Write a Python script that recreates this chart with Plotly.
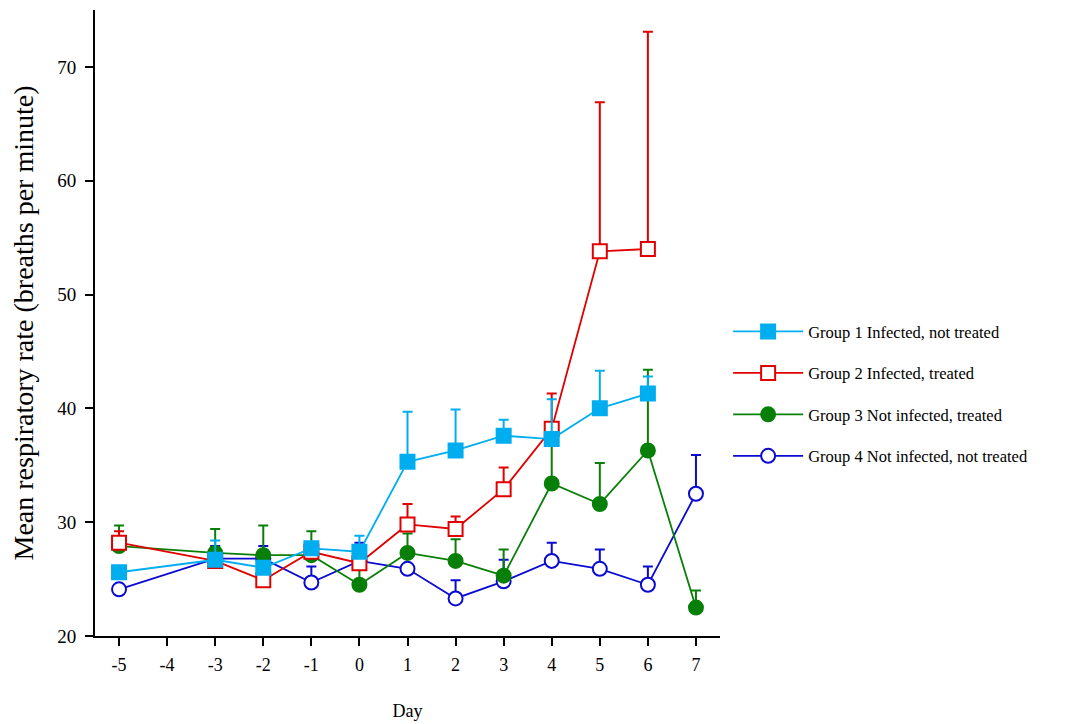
import plotly.graph_objects as go

# Data
days = [-5, -3, -2, -1, 0, 1, 2, 3, 4, 5, 6, 7]

g1_mean = [25.6, 26.7, 26.0, 27.7, 27.4, 35.3, 36.3, 37.6, 37.3, 40.0, 41.3, None]
g1_upper = [25.6, 28.4, 26.0, 28.0, 28.8, 39.7, 39.9, 39.0, 40.8, 43.3, 42.8, None]

g2_mean = [28.2, 26.6, 24.9, 27.4, 26.4, 29.8, 29.4, 32.9, 38.2, 53.8, 54.0, None]
g2_upper = [29.2, 26.6, 24.9, 27.4, 26.4, 31.6, 30.5, 34.8, 41.3, 66.9, 73.1, None]

g3_mean = [27.9, 27.3, 27.1, 27.1, 24.5, 27.3, 26.6, 25.3, 33.4, 31.6, 36.3, 22.5]
g3_upper = [29.7, 29.4, 29.7, 29.2, 26.0, 29.0, 28.5, 27.6, 37.5, 35.2, 43.4, 24.0]

g4_mean = [24.1, 26.8, 26.8, 24.7, 26.6, 25.9, 23.3, 24.8, 26.6, 25.9, 24.5, 32.5]
g4_upper = [24.1, 27.9, 27.9, 26.1, 28.2, 25.9, 24.9, 26.7, 28.2, 27.6, 26.1, 35.9]

names = [
    "Group 1 Infected, not treated",
    "Group 2 Infected, treated",
    "Group 3 Not infected, treated",
    "Group 4 Not infected, not treated",
]
colors = ["#00AEEF", "#E00000", "#087F08", "#0A0AD0"]
symbols = ["square", "square", "circle", "circle"]
fills = ["#00AEEF", "white", "#087F08", "white"]

series = [(g1_mean, g1_upper), (g2_mean, g2_upper), (g3_mean, g3_upper), (g4_mean, g4_upper)]

fig = go.Figure()
# draw group 4 first so group 1 is on top
for i in [3, 2, 1, 0]:
    mean, upper = series[i]
    xs = [d for d, m in zip(days, mean) if m is not None]
    ys = [m for m in mean if m is not None]
    up = [u - m for u, m in zip(upper, mean) if m is not None]
    fig.add_trace(go.Scatter(
        x=xs, y=ys, name=names[i], mode="lines+markers",
        line=dict(color=colors[i], width=1.8),
        marker=dict(symbol=symbols[i], size=14, color=fills[i],
                    line=dict(color=colors[i], width=2)),
        error_y=dict(type="data", symmetric=False, array=up, arrayminus=[0] * len(up),
                     color=colors[i], thickness=2, width=5),
        legendgroup=str(i), legendrank=i + 1,
    ))

fig.update_layout(
    width=1066, height=724,
    paper_bgcolor="white", plot_bgcolor="white",
    margin=dict(l=87, r=354, t=2, b=96),
    font=dict(family="Liberation Serif, Times New Roman, serif", color="black", size=18),
    showlegend=True,
    legend=dict(x=1.013, xanchor="left", y=0.387, yanchor="middle",
                traceorder="grouped", tracegroupgap=17,
                font=dict(size=16.5, family="Liberation Serif, serif", color="black"),
                itemwidth=70, bgcolor="rgba(0,0,0,0)"),
    xaxis=dict(range=[-5.5, 7.5], tickmode="array", tickvals=list(range(-5, 8)),
               ticktext=[str(v) for v in range(-5, 8)],
               showline=True, linecolor="black", linewidth=2,
               ticks="outside", ticklen=8, tickwidth=2, tickcolor="black",
               ticklabelstandoff=3,
               showgrid=False, zeroline=False, automargin=False,
               title=dict(text="Day", font=dict(size=18), standoff=31)),
    yaxis=dict(range=[20, 75], tickvals=[20, 30, 40, 50, 60, 70],
               showline=True, linecolor="black", linewidth=2,
               ticks="outside", ticklen=8, tickwidth=2, tickcolor="black",
               tickfont=dict(size=19), ticklabelstandoff=5,
               showgrid=False, zeroline=False, automargin=False,
               title=dict(text="Mean respiratory rate (breaths per minute)", font=dict(size=28), standoff=15)),
)

fig.write_html("out.html")
